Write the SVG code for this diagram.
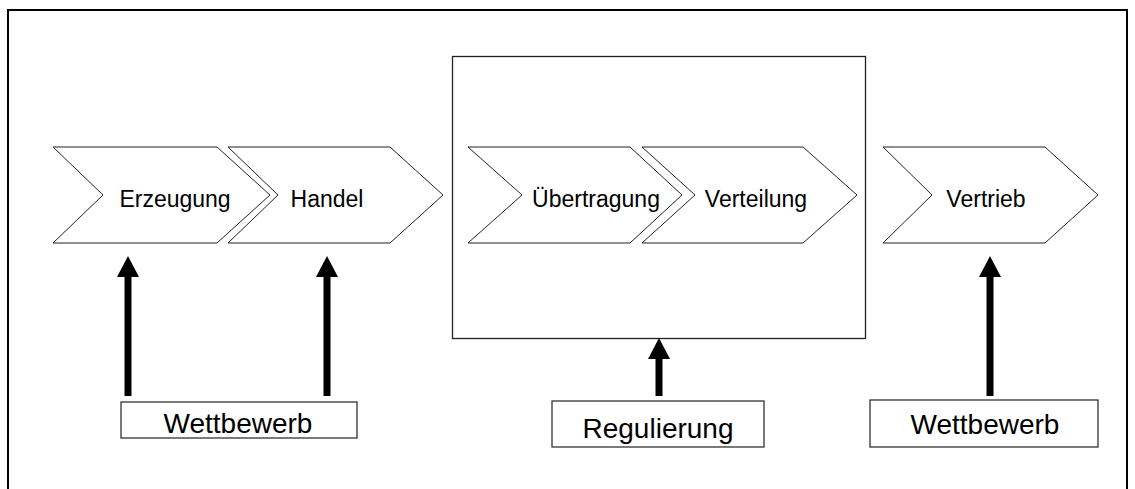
<svg xmlns="http://www.w3.org/2000/svg" width="1135" height="489" viewBox="0 0 1135 489">
<style>
.chev{fill:#fff;stroke:#222;stroke-width:1}
.lbl{font-family:"Liberation Sans",Arial,sans-serif;font-size:23px;fill:#000;text-anchor:middle}
.blbl{font-family:"Liberation Sans",Arial,sans-serif;font-size:28px;fill:#000;text-anchor:middle}
.box{fill:#fff;stroke:#333;stroke-width:1.3}
.arr{stroke:#000;stroke-width:7;fill:none}
</style>
<defs>
<marker id="ah" markerUnits="userSpaceOnUse" markerWidth="24" markerHeight="24" refX="0" refY="0" viewBox="0 -12 22 24" orient="auto" overflow="visible">
<path d="M0,-11 L21,0 L0,11 Z" fill="#000"/>
</marker>
</defs>
<rect x="0" y="0" width="1135" height="489" fill="#fff"/>
<rect id="frame" x="8" y="10" width="1119" height="495" fill="none" stroke="#000" stroke-width="2"/>
<g id="netz">
<rect x="452.5" y="56.5" width="413" height="282" fill="#fff" stroke="#222" stroke-width="1.3"/>
</g>
<g id="erzeugung">
<polygon class="chev" points="53,147 217,147 270,195 217,243 53,243 103,195"/>
<text class="lbl" x="175" y="207">Erzeugung</text>
</g>
<g id="handel">
<polygon class="chev" points="228,147 390,147 443,195 390,243 228,243 278,195"/>
<text class="lbl" x="327" y="207">Handel</text>
</g>
<g id="uebertragung">
<polygon class="chev" points="468,147 630,147 682,195 630,243 468,243 522,195"/>
<text class="lbl" x="596" y="207">Übertragung</text>
</g>
<g id="verteilung">
<polygon class="chev" points="642,147 803,147 857,195 803,243 642,243 695,195"/>
<text class="lbl" x="756" y="207">Verteilung</text>
</g>
<g id="vertrieb">
<polygon class="chev" points="883,147 1045,147 1098,195 1045,243 883,243 932,195"/>
<text class="lbl" x="986" y="207">Vertrieb</text>
</g>
<g id="wettbewerb1">
<rect class="box" x="121" y="402" width="236" height="36"/>
<text class="blbl" x="238" y="433">Wettbewerb</text>
</g>
<g id="regulierung">
<rect class="box" x="552" y="401" width="212" height="46"/>
<text class="blbl" x="658" y="438">Regulierung</text>
</g>
<g id="wettbewerb2">
<rect class="box" x="870" y="400" width="228" height="47"/>
<text class="blbl" x="985" y="434">Wettbewerb</text>
</g>
<g id="connectors">
<line class="arr" x1="128" y1="396" x2="128" y2="277" marker-end="url(#ah)"/>
<line class="arr" x1="327" y1="396" x2="327" y2="277" marker-end="url(#ah)"/>
<line class="arr" x1="659" y1="396" x2="659" y2="359" marker-end="url(#ah)"/>
<line class="arr" x1="990" y1="396" x2="990" y2="277" marker-end="url(#ah)"/>
</g>
</svg>
